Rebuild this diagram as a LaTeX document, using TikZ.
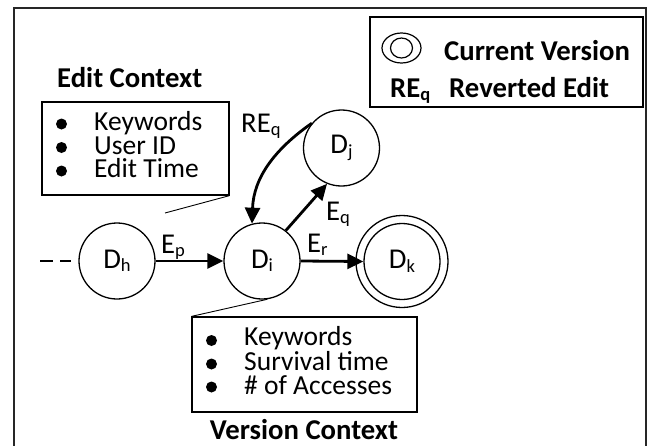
\documentclass[tikz,border=0pt]{standalone}
\usepackage{fontspec}
\setmainfont{Carlito}
\usetikzlibrary{arrows.meta}

% small lowered subscript in the style of a word processor
\newcommand\sbs[1]{\raisebox{-3.5pt}{\fontsize{18.5}{18.5}\selectfont #1}}
\newcommand\txt{\fontsize{28.7}{24.5}\selectfont}
\newcommand\btxt{\fontsize{28.7}{24.5}\selectfont\bfseries}
\newcommand\listfont{\fontsize{27.5}{23.5}\selectfont}

\begin{document}
\begin{tikzpicture}[x=1pt,y=-1pt,
  state/.style={circle,draw,line width=1.3pt,minimum size=76pt,inner sep=0pt,font=\txt},
  ring/.style={circle,draw,line width=1.3pt,minimum size=92pt,inner sep=0pt},
  edge/.style={line width=2.8pt,-{Triangle[length=16pt,width=15pt]}},
  ctxbox/.style={rectangle,draw,line width=1.2pt,inner sep=0pt},
  callout/.style={line width=0.9pt},
  lbl/.style={anchor=base west,inner sep=0pt,font=\txt},
  blbl/.style={anchor=base west,inner sep=0pt,font=\btxt},
  % multi-line lists: the base anchor sits on the last line
  listtxt/.style={anchor=base west,inner sep=0pt,font=\listfont,align=left},
  dot/.style={circle,fill,inner sep=0pt,minimum size=11pt}
]
\useasboundingbox (0,0) rectangle (654,445);

% outer frame (runs past the lower edge)
\draw[line width=1.8pt,black!85] (14,8) rectangle (646,470);

% legend
\node[ctxbox,minimum width=273pt,minimum height=90pt] (legend) at (506.5,62) {};
\draw[line width=1.2pt] (401.5,48) ellipse [x radius=19.5, y radius=15];
\draw[line width=1.2pt] (401.5,48) ellipse [x radius=11, y radius=10];
\node[blbl] (curv) at (444,60) {Current Version};
\node[blbl] (reqkey) at (390,97) {RE\sbs{q}};
\node[blbl] (revedit) at (449,97) {Reverted Edit};

% version states
\node[state] (dh) at (117,261) {D\sbs{h}};
\node[state] (di) at (262,261) {D\sbs{i}};
\node[state] (dj) at (341.5,148) {D\sbs{j}};
\node[state] (dk) at (402,261.5) {D\sbs{k}};
\node[ring] (dkring) at (dk.center) {};

% edits between versions
\coordinate (prev) at (40,261);
\draw[line width=2.8pt,dash pattern=on 12.5pt off 7.5pt,shorten >=7pt] (prev) -- (dh.west);
\draw[edge] (dh.east) -- (di.west);
\draw[edge] (di.east) -- (dk.west);
\draw[edge] (di.52) -- (dj.248);
\draw[edge] (dj.140) to[out=215,in=88] (di.105);

\node[lbl] (ep) at (161,253) {E\sbs{p}};
\node[lbl] (er) at (307,252) {E\sbs{r}};
\node[lbl] (eq) at (326,220) {E\sbs{q}};
\node[lbl] (req) at (241,132) {RE\sbs{q}};

% edit context
\node[blbl] (edittitle) at (57,87) {Edit Context};
\node[ctxbox,minimum width=187pt,minimum height=93pt] (editbox) at (135.5,148.5) {};
\node[dot] (eb1) at (61.5,124) {};
\node[dot] (eb2) at (61.5,147.5) {};
\node[dot] (eb3) at (61.5,171) {};
\node[listtxt] (editlist) at (94,177.7) {Keywords\\User ID\\Edit Time};
\coordinate (editptr) at (165,213);
\draw[callout] (editbox.south east) -- (editptr);

% version context
\node[ctxbox,minimum width=225pt,minimum height=95pt] (verbox) at (304.5,364.5) {};
\node[dot] (vb1) at (211.5,340.5) {};
\node[dot] (vb2) at (211.5,364) {};
\node[dot] (vb3) at (211.5,387) {};
\node[listtxt] (verlist) at (244,394) {Keywords\\Survival time\\\# of Accesses};
\draw[callout] (verbox.north west) -- (di.-82);
\node[blbl,anchor=base] (vertitle) at (304,439) {Version Context};
\end{tikzpicture}
\end{document}
